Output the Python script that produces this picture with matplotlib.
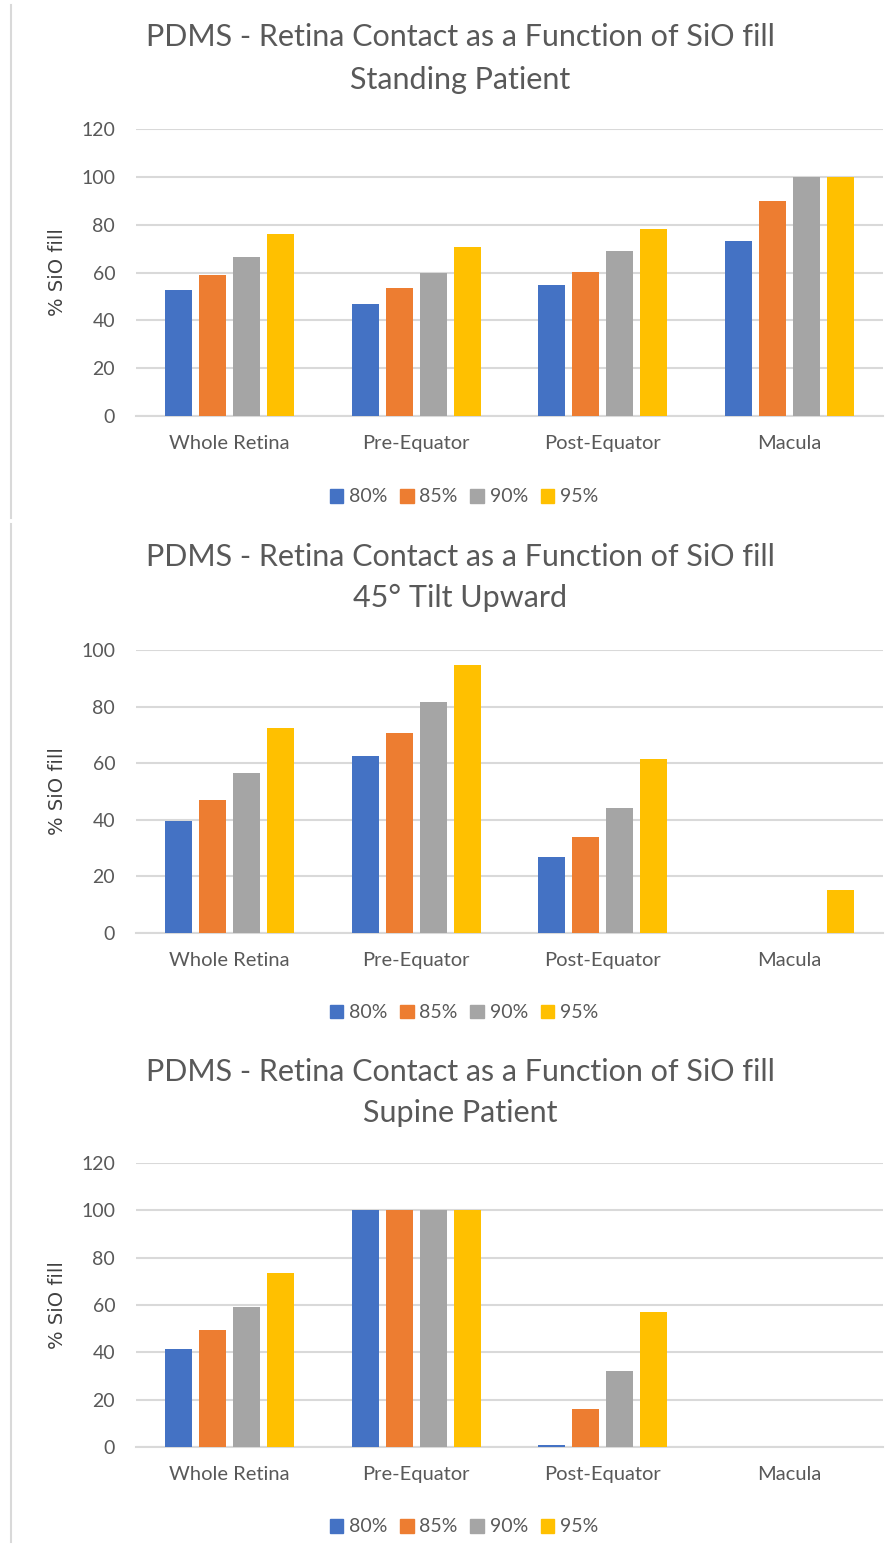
import numpy as np
import matplotlib.pyplot as plt
from matplotlib.lines import Line2D

plt.rcParams['font.family'] = ['Lato', 'DejaVu Sans']

regions = ['Whole Retina', 'Pre-Equator', 'Post-Equator', 'Macula']
fills = ['80%', '85%', '90%', '95%']
colors = ['#4472C4', '#ED7D31', '#A5A5A5', '#FFC000']

# % contact per fill level, one list per region order above
standing = {
    '80%': [52.5, 47.0, 54.6, 73.1],
    '85%': [58.9, 53.4, 60.4, 90.0],
    '90%': [66.5, 59.6, 69.0, 100.0],
    '95%': [76.0, 70.5, 78.1, 100.0],
}
tilt45 = {
    '80%': [39.4, 62.6, 26.8, 0.0],
    '85%': [46.9, 70.6, 34.0, 0.0],
    '90%': [56.7, 81.5, 44.1, 0.0],
    '95%': [72.4, 94.6, 61.4, 15.1],
}
supine = {
    '80%': [41.4, 100.0, 1.0, 0.0],
    '85%': [49.4, 100.0, 16.0, 0.0],
    '90%': [59.1, 100.0, 32.3, 0.0],
    '95%': [73.7, 100.0, 57.1, 0.0],
}

subtitles = ['Standing Patient', '45° Tilt Upward', 'Supine Patient']
datasets = [standing, tilt45, supine]
ymaxes = [120, 100, 120]

W, H = 894, 1546
fig = plt.figure(figsize=(W / 100, H / 100), dpi=100)

# pixel layout of each panel: (y of top gridline, y of zero line, title line1, title line2, legend y)
panels = [
    (129, 416, 37, 80, 497),
    (650, 933, 557, 598, 1013),
    (1163, 1447, 1072, 1113, 1527),
]

txt = '#595959'
grid = '#D9D9D9'
ax_left, ax_right = 136, 883

for data, sub, ymax, (ytop, y0, t1, t2, ly) in zip(datasets, subtitles, ymaxes, panels):
    ax = fig.add_axes([ax_left / W, 1 - y0 / H, (ax_right - ax_left) / W, (y0 - ytop) / H])
    x = np.arange(len(regions))
    pitch = 0.182
    width = 0.145
    for i, f in enumerate(fills):
        ax.bar(x + (i - 1.5) * pitch, data[f], width, color=colors[i], label=f, zorder=3)
    ax.set_xlim(-0.5, len(regions) - 0.5)
    ax.set_ylim(0, ymax)
    ax.set_yticks(np.arange(0, ymax + 1, 20))
    ax.set_xticks(x)
    ax.set_xticklabels(regions)
    ax.yaxis.grid(True, color=grid, linewidth=1.5, zorder=0)
    ax.set_axisbelow(True)
    for s in ['top', 'right', 'left']:
        ax.spines[s].set_visible(False)
    ax.spines['bottom'].set_color(grid)
    ax.spines['bottom'].set_linewidth(1.5)
    ax.tick_params(axis='y', length=0, pad=15, labelsize=14, labelcolor=txt)
    ax.tick_params(axis='x', length=0, pad=14, labelsize=14.5, labelcolor=txt)

    fig.text(58 / W, 1 - (ytop + y0) / 2 / H, '% SiO fill', rotation=90, ha='center', va='center',
             fontsize=14, color='#404040', family=['DejaVu Sans'])
    fig.text(460 / W, 1 - t1 / H, 'PDMS - Retina Contact as a Function of SiO fill', ha='center',
             va='center', fontsize=22, color=txt)
    fig.text(460 / W, 1 - t2 / H, sub, ha='center', va='center', fontsize=22, color=txt)

    handles = [plt.Rectangle((0, 0), 1, 1, color=c) for c in colors]
    fig.legend(handles, fills, loc='center', bbox_to_anchor=(464 / W, 1 - ly / H), ncol=4,
               frameon=False, fontsize=14, labelcolor=txt, handlelength=0.7, handleheight=0.7,
               handletextpad=0.3, columnspacing=0.65)

# thin border lines at the left edge of the stitched panels
for ya, yb in [(5, 518), (524, 1542)]:
    fig.add_artist(Line2D([11 / W, 11 / W], [1 - ya / H, 1 - yb / H], color=grid, linewidth=1.5,
                          transform=fig.transFigure))

fig.savefig('out.png', dpi=100)
